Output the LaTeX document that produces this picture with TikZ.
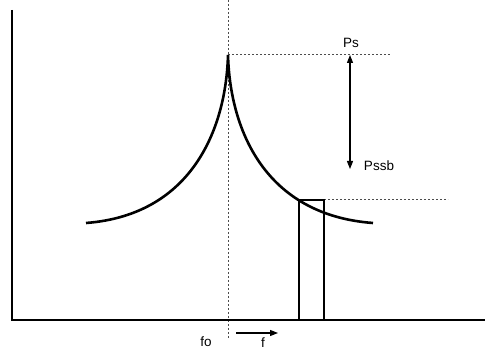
\documentclass[tikz,border=0pt]{standalone}
\usepackage{fontspec}
\setmainfont{Liberation Sans}
\usetikzlibrary{arrows.meta}
\begin{document}
\begin{tikzpicture}[x=1pt,y=-1pt,
  axis/.style={line width=2.4pt},
  curve/.style={line width=2.6pt},
  guide/.style={line width=1pt,gray!60!black,dash pattern=on 2pt off 2pt},
  lbl/.style={font=\fontsize{13.5}{16}\selectfont,inner sep=0pt},
  arr/.style={line width=1.1pt,-{Triangle[length=8pt,width=6pt]}}]
\useasboundingbox (0,0) rectangle (485,352);
% coordinates
\coordinate (ytop) at (12,10);
\coordinate (origin) at (12,320);
\coordinate (xend) at (485,320);
\coordinate (vtop) at (228,0);
\coordinate (vbot) at (228,338);
\coordinate (peak) at (228,55);
\coordinate (lend) at (86,223);
\coordinate (rend) at (373,223);
\coordinate (pslineend) at (390,55);
\coordinate (ssbstart) at (324,200);
\coordinate (ssbend) at (448,200);
\coordinate (atop) at (350,55);
\coordinate (abot) at (350,169);
\coordinate (fstart) at (236,333);
\coordinate (fend) at (278,333);
% guides
\draw[guide] (vtop) -- (vbot);
\draw[guide] (peak) -- (pslineend);
\draw[guide] (ssbstart) -- (ssbend);
% axes
\draw[axis] (ytop) -- (origin) -- (xend);
% spectrum
\draw[curve] (lend) .. controls (191,215) and (226,130) .. (peak)
  .. controls (230,130) and (265,215) .. (rend);
% sideband box
\draw[axis] (299,320) rectangle (324,200);
% arrow
\draw[line width=1.1pt,{Triangle[length=8pt,width=6pt]}-{Triangle[length=8pt,width=6pt]}] (atop) -- (abot);
% labels
\node[lbl] (ps) at (351,43) {Ps};
\node[lbl] (pssb) at (379,166) {Pssb};
\node[lbl] (fo) at (206,342) {fo};
\node[lbl] (f) at (263,343) {f};
\draw[arr] (fstart) -- (fend);
\end{tikzpicture}
\end{document}
